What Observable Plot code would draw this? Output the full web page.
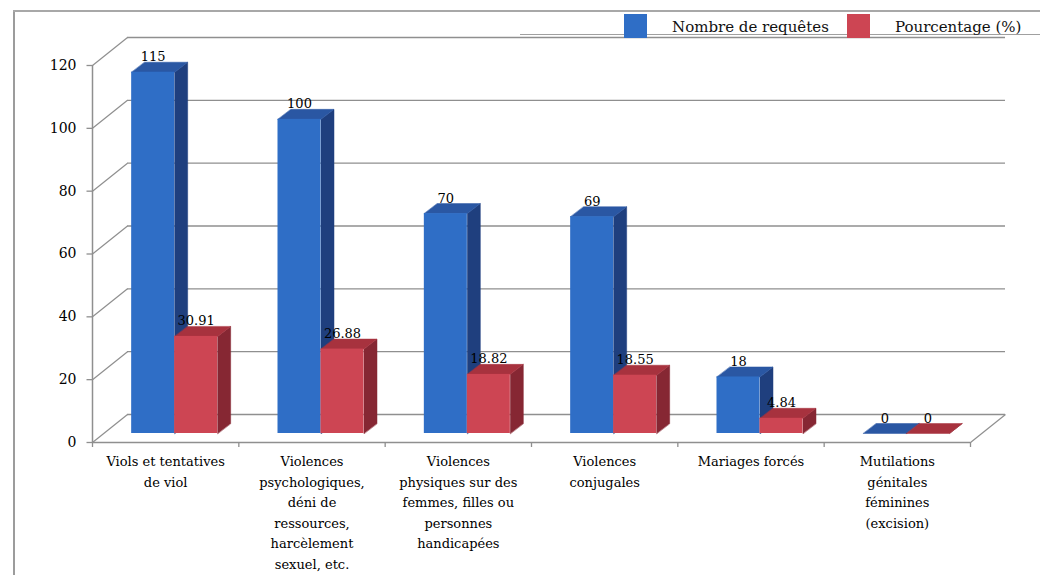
<!DOCTYPE html>
<html><head><meta charset="utf-8">
<script src="https://cdn.jsdelivr.net/npm/d3@7"></script>
<script src="https://cdn.jsdelivr.net/npm/@observablehq/plot@0.6"></script>
<style>
body{margin:0;background:#fff;}
#wrap{position:relative;width:1040px;height:575px;overflow:hidden;font-family:"DejaVu Serif",serif;background:#fff;}
#wrap svg{position:absolute;left:0;top:0;}
.ln{position:absolute;}
#frameL{left:13px;top:10px;height:570px;border-left:2px solid #9c9c9c;}
#frameT{left:13px;top:10px;width:1030px;border-top:2px solid #a8a8a8;}
#legLine{left:520px;top:34px;width:520px;border-top:1px solid #a0a0a0;}
.sw{position:absolute;top:14px;width:23px;height:24px;}
.lt{position:absolute;top:20px;font-size:15px;line-height:15px;color:#111;white-space:nowrap;}
</style></head>
<body>
<div id="wrap">
  <div id="chart"></div>
  <div class="ln" id="frameL"></div>
  <div class="ln" id="frameT"></div>
  <div class="ln" id="legLine"></div>
  <div id="legend"></div>
</div>
<script>
// ---- data ----
const categories = [
  "Viols et tentatives\nde viol",
  "Violences\npsychologiques,\ndéni de\nressources,\nharcèlement\nsexuel, etc.",
  "Violences\nphysiques sur des\nfemmes, filles ou\npersonnes\nhandicapées",
  "Violences\nconjugales",
  "Mariages forcés",
  "Mutilations\ngénitales\nféminines\n(excision)"
];
const requetes = [115, 100, 70, 69, 18, 0];
const pourcentages = [30.91, 26.88, 18.82, 18.55, 4.84, 0];
const pourcentageLabels = ["30.91", "26.88", "18.82", "18.55", "4.84", "0"];
const seriesNames = ["Nombre de requêtes", "Pourcentage (%)"];
const yTicks = [0, 20, 40, 60, 80, 100, 120];

// ---- layout / style ----
const W = 1040, H = 575, ML = 104, MR = 58, MT = 56, MB = 142;
const N = categories.length;
const PXX = (W - ML - MR) / N;
const PXY = (H - MT - MB) / 120;
const ux = px => px / PXX;        // pixels -> x units
const uy = px => px / PXY;        // pixels (upwards) -> y units
const BAR = 43, SHIFT = -3, DX = 13, DY = 10;
const FRONT = {dx: -12, dy: 9}, BACK = {dx: 23, dy: -19};
const colors = [
  {front: "#2f6ec6", top: "#2a57a3", side: "#1f3f7e"},
  {front: "#cd4553", top: "#a7323e", side: "#862733"}
];
const gridColor = "#8f8f8f";

// ---- rows ----
const rows = [];
categories.forEach((c, i) => {
  [requetes[i], pourcentages[i]].forEach((v, s) => {
    const xl = i + 0.5 + ux(SHIFT + (s === 0 ? -BAR : 0));
    const xr = xl + ux(BAR);
    rows.push({i, s, v, xl, xr, label: s === 0 ? String(v) : pourcentageLabels[i]});
  });
});
function faces(s) {
  const side = [], top = [];
  rows.filter(r => r.s === s).forEach((r, k) => {
    const ddx = ux(DX), ddy = uy(DY);
    [[r.xr, 0], [r.xr, r.v], [r.xr + ddx, r.v + ddy], [r.xr + ddx, ddy]]
      .forEach(([x, y]) => side.push({id: k, x, y}));
    [[r.xl, r.v], [r.xr, r.v], [r.xr + ddx, r.v + ddy], [r.xl + ddx, r.v + ddy]]
      .forEach(([x, y]) => top.push({id: k, x, y}));
  });
  return {side, top};
}

const marks = [];
// back wall grid
marks.push(Plot.ruleY(yTicks, {y: d => d, ...BACK, stroke: gridColor, strokeWidth: 1.3}));
// left diagonals from front axis to back wall
marks.push(Plot.link(yTicks, {
  x1: () => ux(FRONT.dx), y1: d => d - uy(FRONT.dy),
  x2: () => ux(BACK.dx), y2: d => d - uy(BACK.dy),
  stroke: gridColor, strokeWidth: 1.2
}));
// right floor diagonal
marks.push(Plot.link([0], {
  x1: () => N + ux(FRONT.dx), y1: () => -uy(FRONT.dy),
  x2: () => N + ux(BACK.dx), y2: () => -uy(BACK.dy),
  stroke: gridColor, strokeWidth: 1.2
}));
// front axes
marks.push(Plot.ruleY([0], {...FRONT, stroke: gridColor, strokeWidth: 1.5}));
marks.push(Plot.ruleX([0], {y1: 0, y2: 120, ...FRONT, stroke: gridColor, strokeWidth: 1.5}));
marks.push(Plot.link(yTicks, {
  x1: () => ux(FRONT.dx - 6), x2: () => ux(FRONT.dx),
  y1: d => d - uy(FRONT.dy), y2: d => d - uy(FRONT.dy),
  stroke: gridColor, strokeWidth: 1.3
}));
marks.push(Plot.ruleX(d3.range(0, N + 1), {x: d => d, y1: 0, y2: -uy(5), ...FRONT, stroke: gridColor, strokeWidth: 1.3}));

// bars (3D look)
[0, 1].forEach(s => {
  const f = faces(s);
  marks.push(Plot.line(f.side, {x: "x", y: "y", z: "id", curve: "linear-closed", fill: colors[s].side, stroke: colors[s].side, strokeWidth: 0.5}));
  marks.push(Plot.line(f.top, {x: "x", y: "y", z: "id", curve: "linear-closed", fill: colors[s].top, stroke: colors[s].top, strokeWidth: 0.5}));
  marks.push(Plot.rect(rows.filter(r => r.s === s), {x1: "xl", x2: "xr", y1: () => 0, y2: "v", fill: colors[s].front}));
});

// value labels
marks.push(Plot.text(rows, {
  x: r => (r.xl + r.xr) / 2, y: "v", text: "label",
  lineAnchor: "bottom", dy: -11, fontSize: 13, fill: "#000"
}));
// y tick labels
marks.push(Plot.text(yTicks, {
  x: () => 0, y: d => d, text: d => String(d),
  textAnchor: "end", dx: FRONT.dx - 16, dy: FRONT.dy, fontSize: 14, fill: "#000"
}));
// category labels
marks.push(Plot.text(categories, {
  x: (d, i) => i + 0.5, y: () => 0, text: d => d,
  dx: FRONT.dx, dy: FRONT.dy + 9, lineAnchor: "top", lineHeight: 1.58,
  fontSize: 13, fill: "#000"
}));

const chart = Plot.plot({
  width: W, height: H,
  marginLeft: ML, marginRight: MR, marginTop: MT, marginBottom: MB,
  x: {domain: [0, N], axis: null},
  y: {domain: [0, 120], axis: null},
  style: {fontFamily: "DejaVu Serif, serif", background: "transparent", color: "#111"},
  marks
});
document.getElementById("chart").appendChild(chart);

// legend
const legend = document.getElementById("legend");
const legPos = [{sw: 624, tx: 672}, {sw: 847, tx: 895}];
seriesNames.forEach((name, s) => {
  const sw = document.createElement("div");
  sw.className = "sw"; sw.style.left = legPos[s].sw + "px"; sw.style.background = colors[s].front;
  legend.appendChild(sw);
  const t = document.createElement("div");
  t.className = "lt"; t.style.left = legPos[s].tx + "px"; t.textContent = name;
  legend.appendChild(t);
});
</script>
</body></html>
